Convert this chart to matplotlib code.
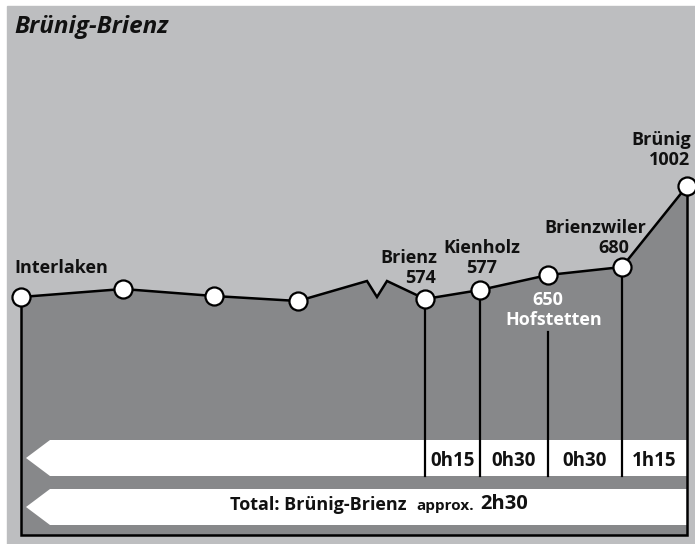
import matplotlib.pyplot as plt
from matplotlib.patches import Polygon, Rectangle

plt.rcParams['font.family'] = ['Open Sans', 'DejaVu Sans']

# profile (distance along route, drawn height)
dist = [21, 123, 214, 298, 367, 377, 387, 425, 480, 548, 622, 687]
height = [247, 255, 248, 243, 263, 247, 263, 245, 254, 269, 277, 358]
stops = [0, 1, 2, 3, 7, 8, 9, 10, 11]   # points with a circle
# stations with lines down to the time arrow
station_idx = [7, 8, 9, 10]
times = ['0h15', '0h30', '0h30', '1h15']

# station labels: (name, elevation, x, y of name, y of elevation, align)
labels = [
    ('Brienz', '574', 437, 286, 266, 'right'),
    ('Kienholz', '577', 482, 296, 276, 'center'),
    ('Brienzwiler', '680', 595, 316, 296, 'center'),
    ('Brünig', '1002', 691, 404, 384, 'right'),
]

BG = '#bdbec0'
FILL = '#87888a'
INK = '#111111'
base = 9
arrow1 = (68, 104)   # bottom, top
arrow2 = (19, 55)

fig = plt.figure(figsize=(6.95, 5.44), dpi=100)
ax = fig.add_axes([0, 0, 1, 1])
ax.set_xlim(0, 695)
ax.set_ylim(0, 544)
ax.axis('off')

ax.add_patch(Rectangle((7, 0), 688, 538, color=BG, zorder=0))

# filled profile
poly = [(dist[0], base)] + list(zip(dist, height)) + [(dist[-1], base)]
ax.add_patch(Polygon(poly, closed=True, facecolor=FILL, edgecolor='none', zorder=1))

# time arrows
right = dist[-1]
for b, t in (arrow1, arrow2):
    m = (b + t) / 2
    ax.add_patch(Polygon([(26, m), (50, t), (right, t), (right, b), (50, b)],
                         closed=True, facecolor='white', edgecolor='none', zorder=2))

# frame
ax.plot([dist[0], dist[0], dist[-1], dist[-1]], [height[0], base, base, height[-1]],
        color='black', lw=1.8, zorder=3, solid_joinstyle='miter')

# station drop lines
for i in station_idx:
    top = height[i] if i != 9 else 212
    ax.plot([dist[i], dist[i]], [arrow1[0], top], color='black', lw=1.6, zorder=3)

# profile line and stops
ax.plot(dist, height, color='black', lw=1.8, zorder=4, solid_joinstyle='miter')
ax.plot([dist[i] for i in stops], [height[i] for i in stops], 'o', ms=13,
        mfc='white', mec='black', mew=1.6, zorder=5)

# labels
fs = 13
ax.text(14, 276, 'Interlaken', ha='left', va='center', fontsize=fs,
        fontweight='bold', color=INK, zorder=6)
for name, elev, x, y1, y2, al in labels:
    ax.text(x, y1, name, ha=al, va='center', fontsize=fs, fontweight='bold', color=INK, zorder=6)
    x2 = x if name != 'Brienzwiler' else 614
    ax.text(x2 - 1 if al == 'right' else x2, y2, elev, ha=al, va='center', fontsize=fs,
            fontweight='bold', color=INK, zorder=6)
ax.text(548, 244, '650', ha='center', va='center', fontsize=fs,
        fontweight='bold', color='white', zorder=6)
ax.text(554, 224, 'Hofstetten', ha='center', va='center', fontsize=fs,
        fontweight='bold', color='white', zorder=6)

ax.text(14, 517, 'Brünig-Brienz', ha='left', va='center', fontsize=17.5,
        fontweight='bold', fontstyle='italic', color=INK)

# segment times
edges = [dist[i] for i in station_idx] + [dist[-1]]
for k, t in enumerate(times):
    ax.text((edges[k] + edges[k + 1]) / 2, 83, t, ha='center', va='center',
            fontsize=13.5, fontweight='bold', color=INK, zorder=6)

ax.text(318, 39, 'Total: Brünig-Brienz', ha='center', va='center', fontsize=13,
        fontweight='bold', color=INK, zorder=6)
ax.text(445, 38, 'approx.', ha='center', va='center', fontsize=11,
        fontweight='bold', color=INK, zorder=6)
ax.text(504, 40, '2h30', ha='center', va='center', fontsize=14.5,
        fontweight='bold', color=INK, zorder=6)

fig.savefig('out.png', dpi=100, facecolor='white')
